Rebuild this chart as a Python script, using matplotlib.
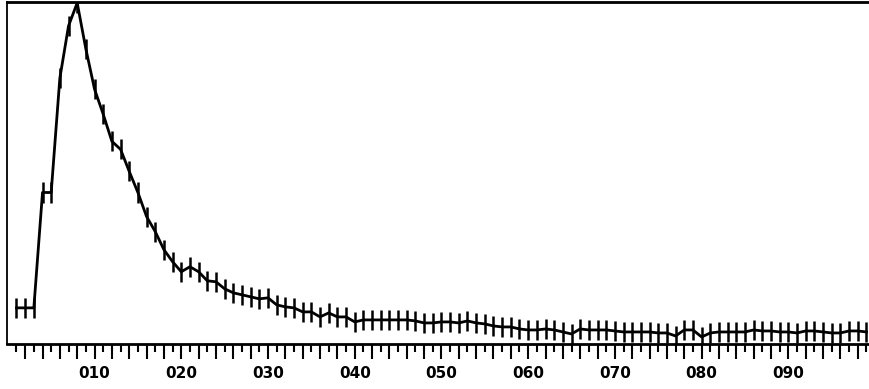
import numpy as np
import matplotlib.pyplot as plt

# ============================================================
# DATA
# ============================================================

channel = list(range(1, 100))

counts = [
    36, 36, 36, 151, 151, 265, 317, 340, 294, 254,
    229, 202, 194, 172, 151, 127, 112, 94, 82, 72,
    77, 72, 63, 62, 55, 51, 49, 47, 45, 46,
    39, 37, 36, 32, 32, 27, 31, 27, 27, 22,
    24, 24, 24, 24, 24, 24, 23, 21, 21, 22,
    22, 21, 23, 21, 20, 18, 17, 17, 15, 14,
    14, 15, 14, 12, 10, 15, 14, 14, 14, 13,
    12, 12, 12, 12, 11, 11, 8, 14, 14, 7,
    11, 12, 12, 12, 12, 14, 13, 13, 12, 12,
    11, 13, 13, 12, 11, 11, 13, 13, 12,
]

err = 10

label_pos = [10, 20, 30, 40, 50, 60, 70, 80, 90]
label_txt = ["010", "020", "030", "040", "050", "060", "070", "080", "090"]

# ============================================================
# FIGURE
# ============================================================

fig = plt.figure(figsize=(8.69, 3.89), dpi=100)
ax = fig.add_axes([0.008, 0.1157, 0.992, 0.8795])

ax.errorbar(
    channel,
    counts,
    yerr=err,
    color="black",
    linewidth=2.0,
    elinewidth=1.8,
    capsize=0,
)

ax.set_xlim(-0.1, 99.3)
ax.set_ylim(0, 341)

ax.spines["right"].set_visible(False)
ax.spines["top"].set_linewidth(2.0)
ax.spines["left"].set_linewidth(1.3)
ax.spines["bottom"].set_linewidth(2.0)

ax.set_yticks([])
ax.set_xticks(np.arange(2, 100, 2))
ax.set_xticks(np.arange(1, 100, 2), minor=True)
ax.set_xticklabels([])
ax.tick_params(axis="x", which="major", direction="out", length=11, width=1.5)
ax.tick_params(axis="x", which="minor", direction="out", length=6, width=1.5)

for pos, txt in zip(label_pos, label_txt):
    ax.text(
        pos, -0.085, txt,
        transform=ax.get_xaxis_transform(),
        ha="center", va="center",
        fontsize=11, fontweight="bold",
        family="DejaVu Sans",
    )

fig.savefig("out.png", dpi=100)
